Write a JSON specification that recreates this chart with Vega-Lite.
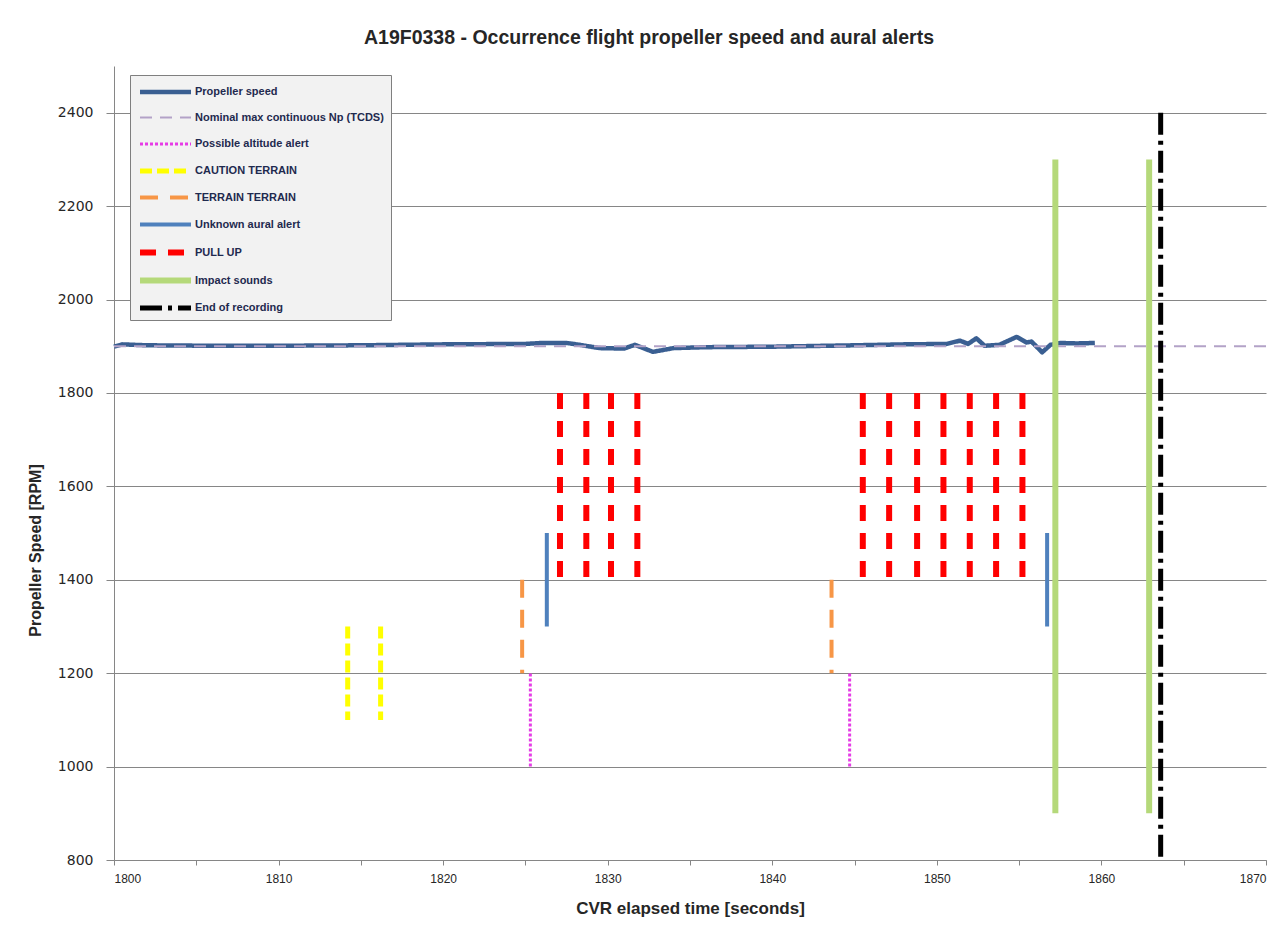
{
  "$schema": "https://vega.github.io/schema/vega-lite/v6.json",
  "autosize": "none",
  "width": 1152,
  "height": 794,
  "padding": {"left": 114, "top": 66, "right": 18, "bottom": 72},
  "background": "white",
  "title": {
    "text": "A19F0338 - Occurrence flight propeller speed and aural alerts",
    "font": "Liberation Sans",
    "fontSize": 19.5,
    "fontWeight": "bold",
    "color": "#262626",
    "anchor": "middle",
    "dx": -41,
    "offset": 18
  },
  "config": {
    "view": {"stroke": null},
    "legend": {
      "orient": "none",
      "legendX": 16,
      "legendY": 9,
      "fillColor": "#f2f2f2",
      "strokeColor": "#7f7f7f",
      "padding": 7,
      "symbolType": "M-1,0H5.8",
      "symbolSize": 225,
      "labelFont": "Liberation Sans",
      "labelFontSize": 11,
      "labelFontWeight": "bold",
      "labelColor": "#1f2a4f",
      "labelOffset": 37,
      "rowPadding": 12,
      "labelLimit": 300
    }
  },
  "datasets": {
    "lines": [
      {"series": "Propeller speed", "t": 1800, "v": 1899},
      {"series": "Propeller speed", "t": 1800.5, "v": 1904},
      {"series": "Propeller speed", "t": 1802, "v": 1902},
      {"series": "Propeller speed", "t": 1806, "v": 1901},
      {"series": "Propeller speed", "t": 1810, "v": 1901},
      {"series": "Propeller speed", "t": 1815, "v": 1902},
      {"series": "Propeller speed", "t": 1820, "v": 1904},
      {"series": "Propeller speed", "t": 1825, "v": 1905},
      {"series": "Propeller speed", "t": 1826, "v": 1907},
      {"series": "Propeller speed", "t": 1827.5, "v": 1907},
      {"series": "Propeller speed", "t": 1828.3, "v": 1903},
      {"series": "Propeller speed", "t": 1829.5, "v": 1896},
      {"series": "Propeller speed", "t": 1831, "v": 1895},
      {"series": "Propeller speed", "t": 1831.65, "v": 1903},
      {"series": "Propeller speed", "t": 1832.75, "v": 1888},
      {"series": "Propeller speed", "t": 1834, "v": 1896},
      {"series": "Propeller speed", "t": 1836, "v": 1898},
      {"series": "Propeller speed", "t": 1840, "v": 1899},
      {"series": "Propeller speed", "t": 1845, "v": 1902},
      {"series": "Propeller speed", "t": 1848, "v": 1904},
      {"series": "Propeller speed", "t": 1850.6, "v": 1905},
      {"series": "Propeller speed", "t": 1851.4, "v": 1912},
      {"series": "Propeller speed", "t": 1851.9, "v": 1905},
      {"series": "Propeller speed", "t": 1852.4, "v": 1917},
      {"series": "Propeller speed", "t": 1852.9, "v": 1901},
      {"series": "Propeller speed", "t": 1853.8, "v": 1903},
      {"series": "Propeller speed", "t": 1854.85, "v": 1920},
      {"series": "Propeller speed", "t": 1855.45, "v": 1908},
      {"series": "Propeller speed", "t": 1855.75, "v": 1910},
      {"series": "Propeller speed", "t": 1856.4, "v": 1887},
      {"series": "Propeller speed", "t": 1856.9, "v": 1903},
      {"series": "Propeller speed", "t": 1857.5, "v": 1907},
      {"series": "Propeller speed", "t": 1858.5, "v": 1906},
      {"series": "Propeller speed", "t": 1859.6, "v": 1907},
      {"series": "Nominal max continuous Np (TCDS)", "t": 1800, "v": 1900},
      {"series": "Nominal max continuous Np (TCDS)", "t": 1870, "v": 1900}
    ],
    "alerts": [
      {"series": "Possible altitude alert", "t": 1825.3, "v": 1000, "v2": 1200},
      {"series": "Possible altitude alert", "t": 1844.7, "v": 1000, "v2": 1200},
      {"series": "CAUTION TERRAIN", "t": 1814.2, "v": 1300, "v2": 1100},
      {"series": "CAUTION TERRAIN", "t": 1816.2, "v": 1300, "v2": 1100},
      {"series": "TERRAIN TERRAIN", "t": 1824.8, "v": 1400, "v2": 1200},
      {"series": "TERRAIN TERRAIN", "t": 1843.6, "v": 1400, "v2": 1200},
      {"series": "Unknown aural alert", "t": 1826.3, "v": 1500, "v2": 1300},
      {"series": "Unknown aural alert", "t": 1856.7, "v": 1500, "v2": 1300},
      {"series": "PULL UP", "t": 1827.1, "v": 1800, "v2": 1400},
      {"series": "PULL UP", "t": 1828.7, "v": 1800, "v2": 1400},
      {"series": "PULL UP", "t": 1830.2, "v": 1800, "v2": 1400},
      {"series": "PULL UP", "t": 1831.8, "v": 1800, "v2": 1400},
      {"series": "PULL UP", "t": 1845.5, "v": 1800, "v2": 1400},
      {"series": "PULL UP", "t": 1847.1, "v": 1800, "v2": 1400},
      {"series": "PULL UP", "t": 1848.8, "v": 1800, "v2": 1400},
      {"series": "PULL UP", "t": 1850.4, "v": 1800, "v2": 1400},
      {"series": "PULL UP", "t": 1852.0, "v": 1800, "v2": 1400},
      {"series": "PULL UP", "t": 1853.6, "v": 1800, "v2": 1400},
      {"series": "PULL UP", "t": 1855.2, "v": 1800, "v2": 1400},
      {"series": "Impact sounds", "t": 1857.2, "v": 2300, "v2": 900},
      {"series": "Impact sounds", "t": 1862.9, "v": 2300, "v2": 900},
      {"series": "End of recording", "t": 1863.6, "v": 2400, "v2": 800}
    ]
  },
  "encoding": {
    "x": {
      "field": "t",
      "type": "quantitative",
      "scale": {"domain": [1800, 1870], "nice": false, "zero": false},
      "axis": {
        "title": "CVR elapsed time [seconds]",
        "values": [1800, 1805, 1810, 1815, 1820, 1825, 1830, 1835, 1840, 1845, 1850, 1855, 1860, 1865, 1870],
        "labelExpr": "datum.value % 10 === 0 ? format(datum.value, 'd') : ''",
        "grid": false,
        "domainColor": "#868686",
        "tickColor": "#868686",
        "tickSize": 5,
        "labelFont": "Liberation Sans",
        "labelFontSize": 12,
        "labelColor": "#262626",
        "labelPadding": 8,
        "titleFont": "Liberation Sans",
        "titleFontSize": 17,
        "titleFontWeight": "bold",
        "titleColor": "#262626",
        "titlePadding": 16,
        "encode": {
          "ticks": {"update": {"y": {"value": -5}, "y2": {"signal": "datum.value % 10 === 0 ? 5 : 0"}}}
        }
      }
    },
    "color": {
      "field": "series",
      "type": "nominal",
      "title": null,
      "legend": {"encode": {"symbols": {"enter": {"strokeJoin": {"value": "bevel"}}, "update": {"strokeJoin": {"value": "bevel"}}}}},
      "scale": {
        "domain": ["Propeller speed", "Nominal max continuous Np (TCDS)", "Possible altitude alert", "CAUTION TERRAIN", "TERRAIN TERRAIN", "Unknown aural alert", "PULL UP", "Impact sounds", "End of recording"],
        "range": ["#3a5f92", "#b3a2c7", "#e63ce6", "#ffff00", "#f79646", "#4f81bd", "#ff0000", "#b5d97a", "#000000"]
      }
    },
    "strokeDash": {
      "field": "series",
      "type": "nominal",
      "title": null,
      "legend": {"encode": {"symbols": {"enter": {"strokeJoin": {"value": "bevel"}}, "update": {"strokeJoin": {"value": "bevel"}}}}},
      "scale": {
        "domain": ["Propeller speed", "Nominal max continuous Np (TCDS)", "Possible altitude alert", "CAUTION TERRAIN", "TERRAIN TERRAIN", "Unknown aural alert", "PULL UP", "Impact sounds", "End of recording"],
        "range": [[1, 0], [12, 8], [3, 2], [12, 5], [18, 12], [1, 0], [16, 12], [1, 0], [22, 6, 4, 6]]
      }
    },
    "strokeWidth": {
      "field": "series",
      "type": "nominal",
      "title": null,
      "legend": {"encode": {"symbols": {"enter": {"strokeJoin": {"value": "bevel"}}, "update": {"strokeJoin": {"value": "bevel"}}}}},
      "scale": {
        "type": "ordinal",
        "domain": ["Propeller speed", "Nominal max continuous Np (TCDS)", "Possible altitude alert", "CAUTION TERRAIN", "TERRAIN TERRAIN", "Unknown aural alert", "PULL UP", "Impact sounds", "End of recording"],
        "range": [4.5, 2, 3, 5, 4, 4, 6, 6, 5]
      }
    }
  },
  "layer": [
    {
      "data": {"name": "lines"},
      "mark": {"type": "line", "strokeJoin": "round", "strokeCap": "butt"},
      "encoding": {
        "y": {
          "field": "v",
          "type": "quantitative",
          "scale": {"domain": [800, 2500], "nice": false, "zero": false},
          "axis": {
            "title": "Propeller Speed [RPM]",
            "values": [800, 1000, 1200, 1400, 1600, 1800, 2000, 2200, 2400],
            "format": "d",
            "grid": true,
            "gridColor": "#868686",
            "gridOpacity": 1,
            "domainColor": "#868686",
            "tickColor": "#868686",
            "tickSize": 8,
            "labelFont": "DejaVu Sans",
            "labelFontSize": 14,
            "labelColor": "#262626",
            "labelPadding": 13,
            "titleFont": "Liberation Sans",
            "titleFontSize": 16,
            "titleFontWeight": "bold",
            "titleColor": "#262626",
            "titleX": -79,
            "titleY": 484,
            "titleBaseline": "middle"
          }
        }
      }
    },
    {
      "data": {"name": "alerts"},
      "mark": {"type": "rule", "strokeCap": "butt"},
      "encoding": {
        "y": {"field": "v", "type": "quantitative"},
        "y2": {"field": "v2"}
      }
    }
  ]
}
